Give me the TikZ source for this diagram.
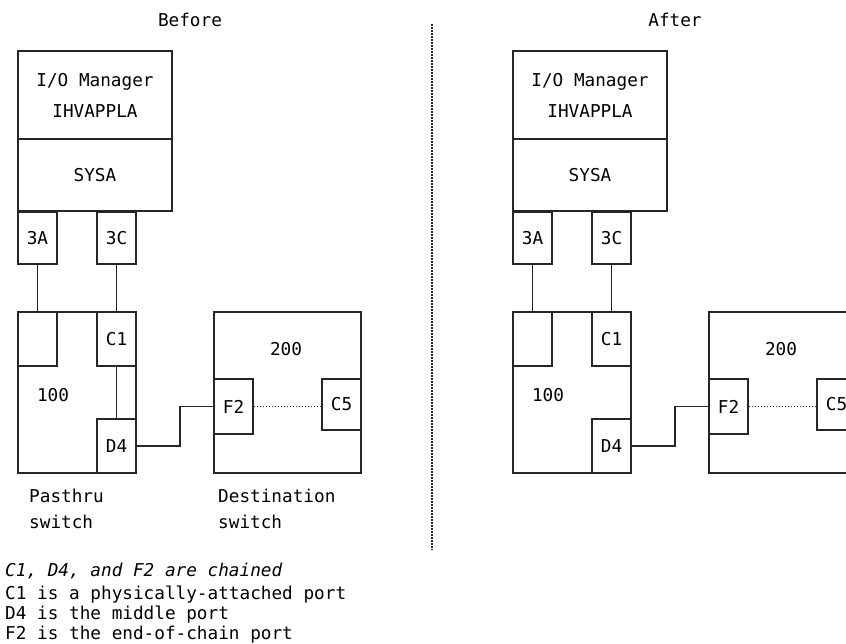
\documentclass[tikz,border=0pt]{standalone}
\usepackage{fontspec}
\setmonofont{DejaVu Sans Mono}
\begin{document}
\begin{tikzpicture}[x = 1pt, y = -1pt,
  every node/.style = {font = \ttfamily\fontsize{17.7}{26}\selectfont, inner sep = 0pt},
  box/.style = {draw = black!85, line width = 1.5pt},
  port/.style = {draw = black!85, line width = 1.6pt, minimum width = 39pt},
  tport/.style = {port, line width = 2.3pt, minimum height = 54pt},
  wire/.style = {draw = black!85, line width = 1.5pt},
  dots/.style = {draw = black!85, line width = 1.8pt, dash pattern = on 1.5pt off 1.5pt}]
\useasboundingbox (0,0) rectangle (846,643);
\node at (190,19.5) (before) {Before};
\node at (675,19.5) (after) {After};
\draw[dots] (432,24) -- (432,550);
\node[box, minimum width = 154pt, minimum height = 88pt, align = center] at (95,95) (mgr) {I/O Manager\\[5pt]IHVAPPLA};
\node[box, minimum width = 154pt, minimum height = 72pt] at (95,175) (sysa) {SYSA};
\node[port, minimum height = 52pt] at (37.5,238) (p3a) {3A};
\node[port, minimum height = 52pt] at (116.5,238) (p3c) {3C};
\node[box, minimum width = 118pt, minimum height = 161pt] at (77,392.5) (sw100) {};
\node at (53,395) (n100) {100};
\node[tport] at (37.5,339) (blank) {};
\node[tport] at (116.5,339) (c1) {C1};
\node[tport] at (116.5,446) (d4) {D4};
\node[box, minimum width = 147pt, minimum height = 161pt] at (287.5,392.5) (sw200) {};
\node at (286,349) (n200) {200};
\node[port, minimum height = 55pt] at (233.5,406.5) (f2) {F2};
\node[port, minimum height = 51pt] at (341.5,404.5) (c5) {C5};
\draw[wire] (p3a.south) -- (blank.north);
\draw[wire] (p3c.south) -- (c1.north);
\draw[wire] (c1.south) -- (d4.north);
\draw[wire] (d4.east) -- ++(43,0) |- (f2.west);
\draw[dots] (f2.east) -- (f2.east -| c5.west);
\node[anchor = north west, align = left] at (29,488.5) (pas) {Pasthru\\switch};
\node[anchor = north west, align = left] at (218,488.5) (dest) {Destination\\switch};
\node[anchor = north west, align = left, font = \ttfamily\fontsize{17.7}{20}\selectfont] at (5,562.5) (note) {\itshape C1, D4, and F2 are chained\\[3pt]C1 is a physically-attached port\\D4 is the middle port\\F2 is the end-of-chain port};
\begin{scope}[xshift = 495pt]
\node[box, minimum width = 154pt, minimum height = 88pt, align = center] at (95,95) (mgr) {I/O Manager\\[5pt]IHVAPPLA};
\node[box, minimum width = 154pt, minimum height = 72pt] at (95,175) (sysa) {SYSA};
\node[port, minimum height = 52pt] at (37.5,238) (p3a) {3A};
\node[port, minimum height = 52pt] at (116.5,238) (p3c) {3C};
\node[box, minimum width = 118pt, minimum height = 161pt] at (77,392.5) (sw100) {};
\node at (53,395) (n100) {100};
\node[tport] at (37.5,339) (blank) {};
\node[tport] at (116.5,339) (c1) {C1};
\node[tport] at (116.5,446) (d4) {D4};
\node[box, minimum width = 147pt, minimum height = 161pt] at (287.5,392.5) (sw200) {};
\node at (286,349) (n200) {200};
\node[port, minimum height = 55pt] at (233.5,406.5) (f2) {F2};
\node[port, minimum height = 51pt] at (341.5,404.5) (c5) {C5};
\draw[wire] (p3a.south) -- (blank.north);
\draw[wire] (p3c.south) -- (c1.north);
\draw[wire] (d4.east) -- ++(43,0) |- (f2.west);
\draw[dots] (f2.east) -- (f2.east -| c5.west);
\end{scope}
\end{tikzpicture}
\end{document}
